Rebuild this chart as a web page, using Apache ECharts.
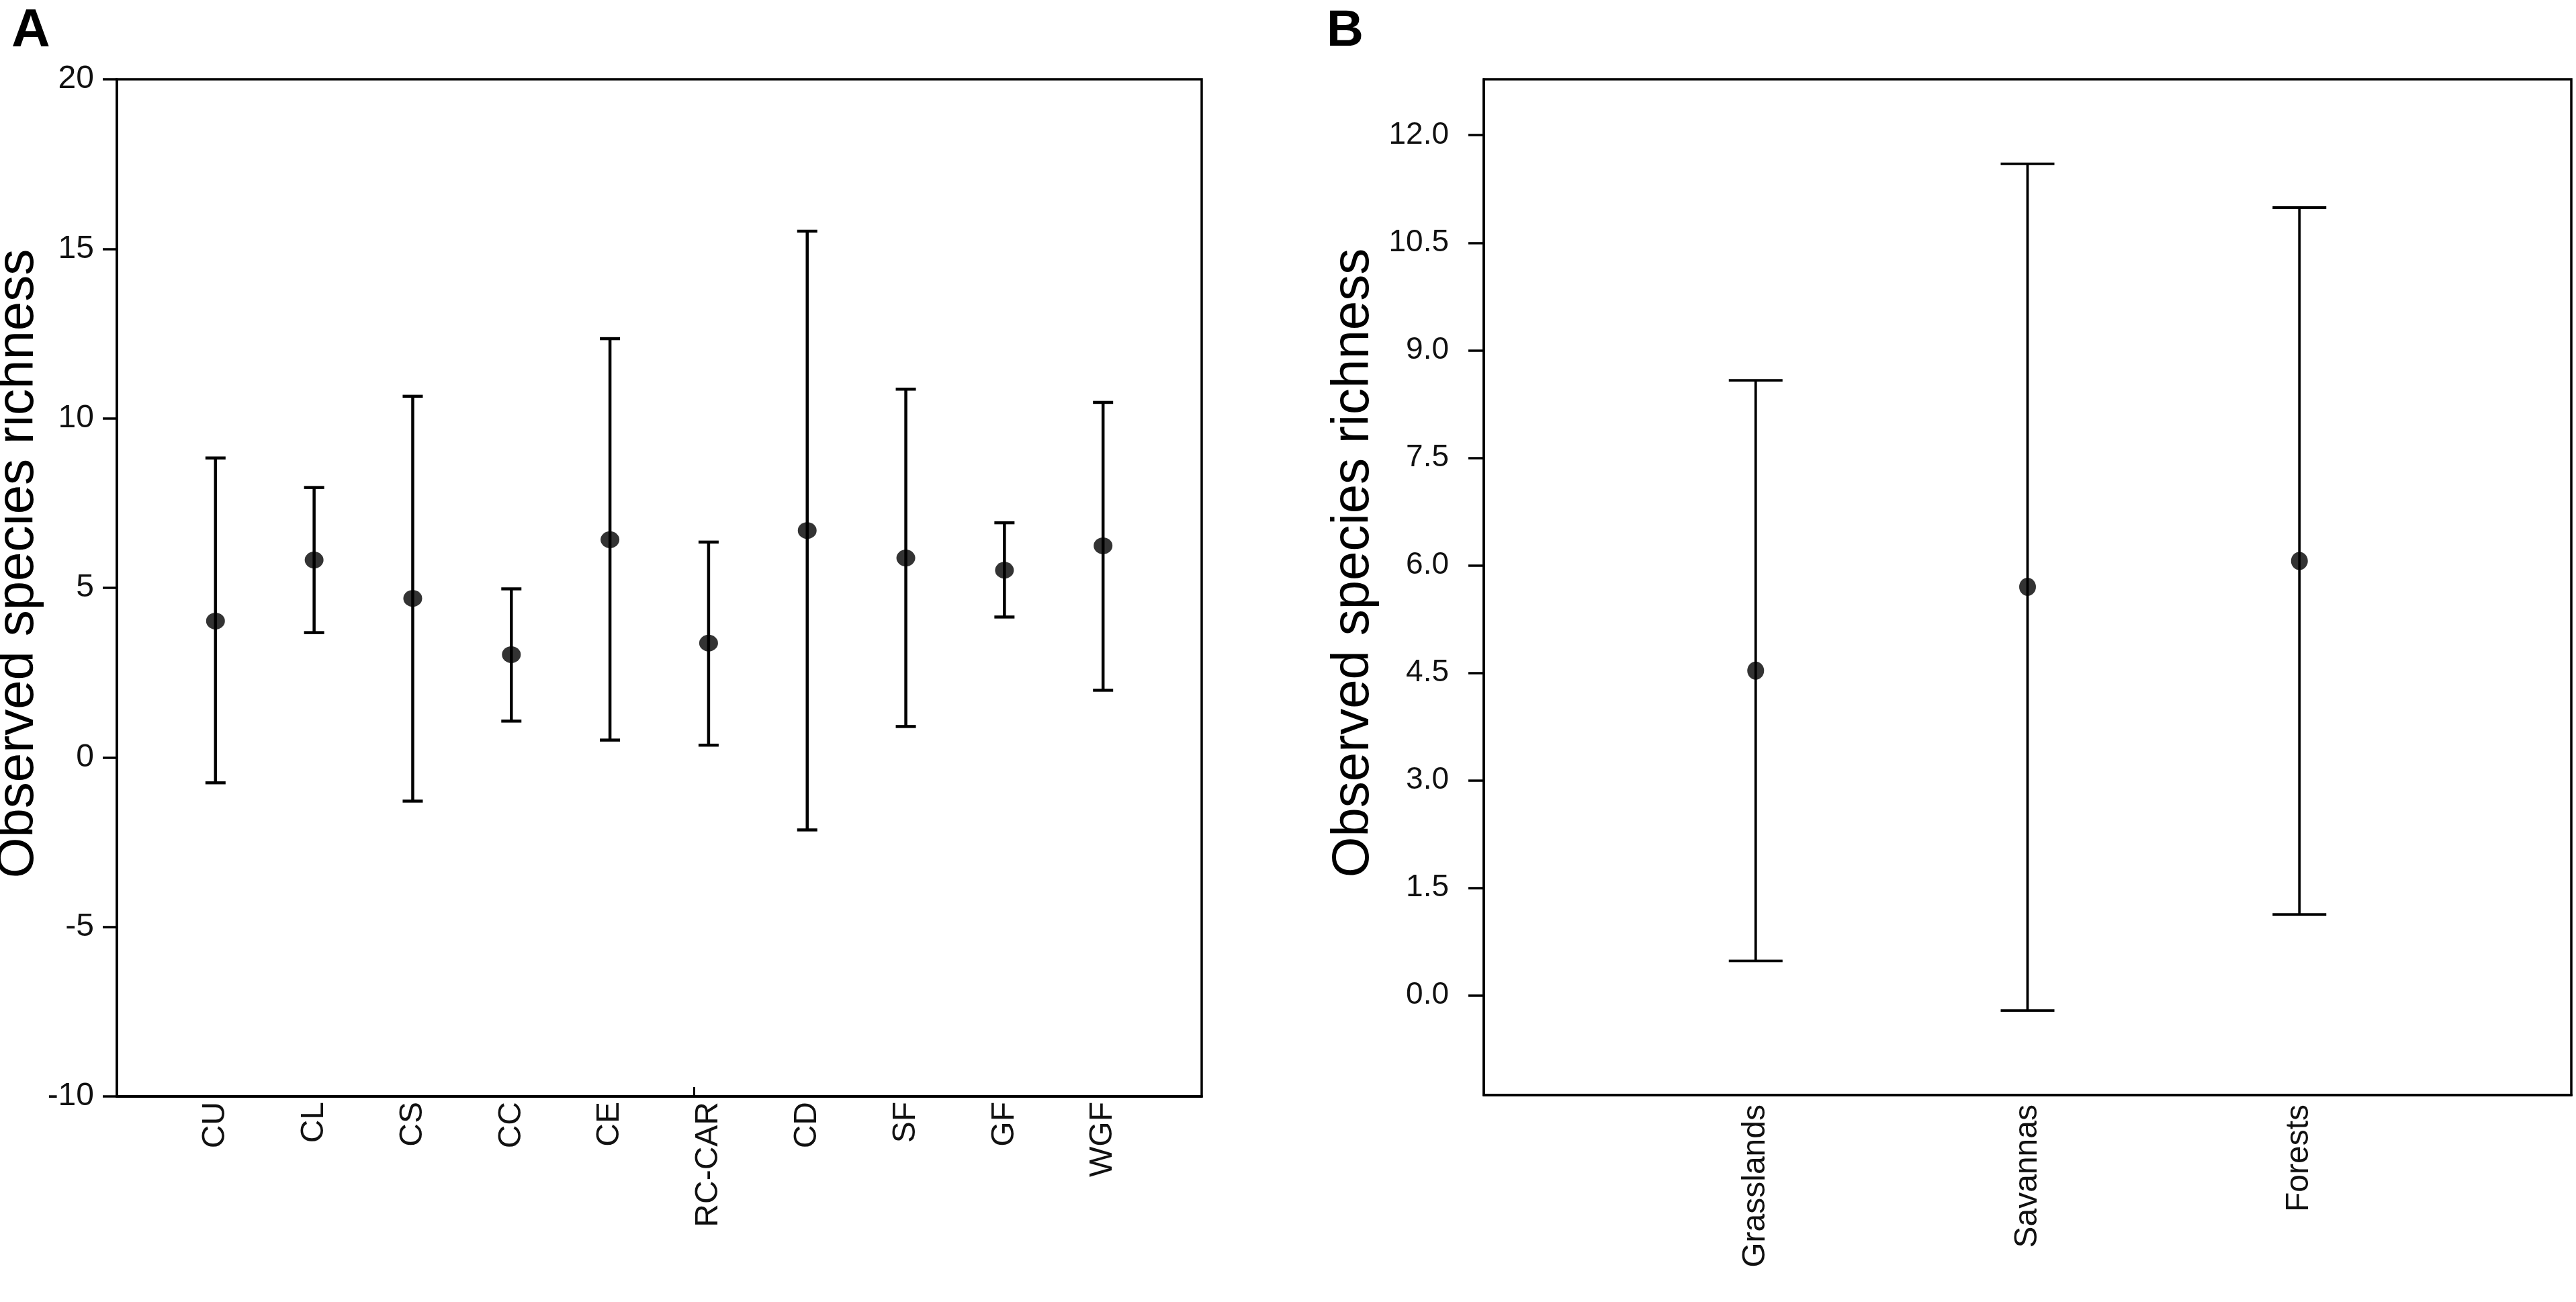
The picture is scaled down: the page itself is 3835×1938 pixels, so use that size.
<!DOCTYPE html>
<html lang="en">
<head>
    <meta charset="UTF-8">
    <title>Observed species richness</title>
    <script src="https://cdn.jsdelivr.net/npm/echarts@6/dist/echarts.min.js"></script>
    <style>
        html, body { margin: 0; padding: 0; background: #fff; }
        #main { width: 3835px; height: 1938px; }
    </style>
</head>
<body>
<div id="main"></div>
<script type="text/javascript">
    // panel A: communities
    var catsA = ['CU', 'CL', 'CS', 'CC', 'CE', 'RC-CAR', 'CD', 'SF', 'GF', 'WGF'];
    var meanA = [4.02, 5.82, 4.69, 3.03, 6.42, 3.37, 6.69, 5.88, 5.52, 6.24];
    var lowA = [-0.75, 3.68, -1.29, 1.07, 0.51, 0.36, -2.14, 0.91, 4.14, 1.98];
    var highA = [8.83, 7.96, 10.65, 4.97, 12.35, 6.35, 15.52, 10.86, 6.92, 10.47];
    var ticksA = [-10, -5, 0, 5, 10, 15, 20];

    // panel B: vegetation types
    var catsB = ['Grasslands', 'Savannas', 'Forests'];
    var meanB = [4.53, 5.70, 6.06];
    var lowB = [0.48, -0.21, 1.13];
    var highB = [8.58, 11.60, 10.99];
    var ticksB = [0, 1.5, 3, 4.5, 6, 7.5, 9, 10.5, 12];

    var FONT = "'Liberation Sans', Arial, sans-serif";

    function errorBars(capWidth, lineWidth) {
        return function (params, api) {
            var x = api.value(0);
            var top = api.coord([x, api.value(2)]);
            var bot = api.coord([x, api.value(1)]);
            var style = { stroke: '#000', lineWidth: lineWidth };
            return {
                type: 'group',
                children: [
                    { type: 'line', shape: { x1: top[0], y1: top[1], x2: bot[0], y2: bot[1] }, style: style },
                    { type: 'line', shape: { x1: top[0] - capWidth / 2, y1: top[1], x2: top[0] + capWidth / 2, y2: top[1] }, style: style },
                    { type: 'line', shape: { x1: bot[0] - capWidth / 2, y1: bot[1], x2: bot[0] + capWidth / 2, y2: bot[1] }, style: style }
                ]
            };
        };
    }

    var chart = echarts.init(document.getElementById('main'));

    var nameStyle = { fontFamily: FONT, fontSize: 78, color: '#000', padding: [0, 0, 0, 72] };

    chart.setOption({
        animation: false,
        backgroundColor: '#fff',
        title: [
            { text: 'A', left: 12, top: 2, textStyle: { fontFamily: FONT, fontWeight: 'bold', fontSize: 80, color: '#000' } },
            { text: 'B', left: 1970, top: 4, textStyle: { fontFamily: FONT, fontWeight: 'bold', fontSize: 76, color: '#000' } }
        ],
        grid: [
            { left: 174, top: 118, width: 1615, height: 1514, show: true, borderColor: '#000', borderWidth: 3.5, outerBoundsMode: 'none' },
            { left: 2209, top: 118, width: 1619, height: 1512, show: true, borderColor: '#000', borderWidth: 3.5, outerBoundsMode: 'none' }
        ],
        xAxis: [
            {
                gridIndex: 0, type: 'value', min: 0, max: catsA.length + 1,
                splitLine: { show: false },
                axisLine: { onZero: false, lineStyle: { color: '#000', width: 4 } },
                axisTick: { show: true, inside: true, length: 14, customValues: [5.85], lineStyle: { color: '#000', width: 3 } },
                axisLabel: {
                    customValues: catsA.map(function (c, i) { return i + 1; }),
                    formatter: function (v) { return catsA[v - 1]; },
                    rotate: 90, margin: 8, fontFamily: FONT, fontSize: 48, color: '#111'
                }
            },
            {
                gridIndex: 1, type: 'value', min: 0, max: catsB.length + 1,
                splitLine: { show: false },
                axisLine: { onZero: false, lineStyle: { color: '#000', width: 4 } },
                axisTick: { show: false },
                axisLabel: {
                    customValues: catsB.map(function (c, i) { return i + 1; }),
                    formatter: function (v) { return catsB[v - 1]; },
                    rotate: 90, margin: 14, fontFamily: FONT, fontSize: 48, color: '#111'
                }
            }
        ],
        yAxis: [
            {
                gridIndex: 0, type: 'value', min: -10, max: 20, interval: 5,
                name: 'Observed species richness', nameLocation: 'middle', nameRotate: 90, nameGap: 94,
                nameTextStyle: nameStyle,
                splitLine: { show: false },
                axisLine: { show: true, onZero: false, lineStyle: { color: '#000', width: 3.5 } },
                axisTick: { show: true, length: 21, customValues: ticksA, lineStyle: { color: '#000', width: 3.5 } },
                axisLabel: { customValues: ticksA, margin: 34, fontFamily: FONT, fontSize: 48, color: '#111' }
            },
            {
                gridIndex: 1, type: 'value', min: -1.39, max: 12.78,
                name: 'Observed species richness', nameLocation: 'middle', nameRotate: 90, nameGap: 155,
                nameTextStyle: nameStyle,
                splitLine: { show: false },
                axisLine: { show: true, onZero: false, lineStyle: { color: '#000', width: 3.5 } },
                axisTick: { show: true, length: 23, customValues: ticksB, lineStyle: { color: '#000', width: 3.5 } },
                axisLabel: {
                    customValues: ticksB, margin: 52, fontFamily: FONT, fontSize: 46, color: '#111',
                    formatter: function (v) { return v.toFixed(1); }
                }
            }
        ],
        series: [
            {
                type: 'custom', xAxisIndex: 0, yAxisIndex: 0,
                renderItem: errorBars(30, 4.5),
                data: catsA.map(function (c, i) { return [i + 1, lowA[i], highA[i]]; }),
                z: 2
            },
            {
                type: 'scatter', xAxisIndex: 0, yAxisIndex: 0,
                symbol: 'circle', symbolSize: [28, 25],
                itemStyle: { color: '#000' },
                data: meanA.map(function (m, i) { return [i + 1, m]; }),
                z: 3
            },
            {
                type: 'custom', xAxisIndex: 1, yAxisIndex: 1,
                renderItem: errorBars(80, 3.8),
                data: catsB.map(function (c, i) { return [i + 1, lowB[i], highB[i]]; }),
                z: 2
            },
            {
                type: 'scatter', xAxisIndex: 1, yAxisIndex: 1,
                symbol: 'circle', symbolSize: [25, 27],
                itemStyle: { color: '#000' },
                data: meanB.map(function (m, i) { return [i + 1, m]; }),
                z: 3
            }
        ]
    });

    window.addEventListener('resize', function () {
        chart.resize();
    });
</script>
</body>
</html>
